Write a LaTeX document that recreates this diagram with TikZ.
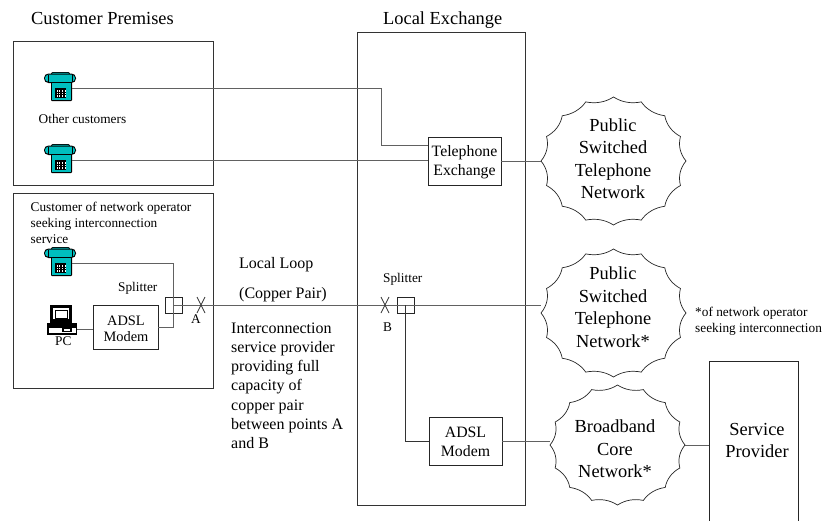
\documentclass[tikz,border=0pt]{standalone}
\usepackage{fontspec}
\setmainfont{Liberation Serif}
\usetikzlibrary{shapes.geometric,calc}
\definecolor{teal1}{RGB}{0,190,190}
\colorlet{wirec}{black!62}
\tikzset{
  x=1pt,y=-1pt,
  frame/.style={draw=black!80,line width=0.9pt,fill=none},
  wire/.style={draw=wirec,line width=0.9pt},
  darkwire/.style={draw=black!80,line width=0.8pt},
  boxn/.style={draw=black!85,line width=0.8pt,inner sep=0pt},
  boxt/.style={inner sep=0pt,align=center},
  lab/.style={inner sep=0pt,anchor=base west},
  small/.style={font=\fontsize{13.3}{16}\selectfont},
  mid/.style={font=\fontsize{15.8}{19}\selectfont},
  big/.style={font=\fontsize{18.4}{22.5}\selectfont},
  loopt/.style={font=\fontsize{16}{19.2}\selectfont},
  cloudtxt/.style={inner sep=0pt,align=center,big},
  hole/.style={ellipse,inner sep=0pt,draw=none},
}
% name, x of centre, y of top: draws a telephone; name is the point where its wire starts
\newcommand{\telephone}[3]{%
 \begin{scope}[shift={(#2,#3)}]
  \fill[black,rounded corners=2pt] (-9,0) rectangle (10,4);
  \fill[teal1,rounded corners=1pt] (-8,0.8) rectangle (9,3.5);
  \fill[black,rounded corners=4.5pt] (-16,1.5) rectangle (16,11);
  \fill[teal1,rounded corners=3.5pt] (-15,2.7) rectangle (15,9.8);
  \draw[black,line width=0.5pt] (-12,3) -- (-12,9.5) (12,3) -- (12,9.5);
  \fill[black,rounded corners=1pt] (-9,10) rectangle (12,29);
  \fill[teal1] (-8,11) rectangle (11,28);
  \fill[black] (-5,15.5) rectangle (6,26);
  \foreach \kx in {-3.5,-0.7,2.1,4.6}{\fill[white] (\kx,17.5) rectangle ++(1.1,7.5);}
  \foreach \ky in {19.8,22.3}{\fill[black] (-5,\ky) rectangle (6,\ky+0.6);}
  \coordinate (#1) at (12,16);
 \end{scope}}
% name, centre x, centre y, half width, half height
\newcommand{\burst}[5]{%
 \node[hole,minimum width=2*#4 pt,minimum height=2*#5 pt] (#1) at (#2,#3) {};
 \draw[black!85,line width=0.7pt]
  ({#2-#4},#3)
  \foreach \k in {0,...,15}{
   .. controls ({#2-#4*0.925*cos(\k*22.5+7)},{#3+#5*0.925*sin(\k*22.5+7)})
           and ({#2-#4*0.925*cos(\k*22.5+15.5)},{#3+#5*0.925*sin(\k*22.5+15.5)})
   .. ({#2-#4*cos(\k*22.5+22.5)},{#3+#5*sin(\k*22.5+22.5)})
  } -- cycle;}
\begin{document}
\begin{tikzpicture}
\useasboundingbox[fill=white] (0,0) rectangle (822,520);
% titles
\node[lab,big] (t1) at (31,24) {Customer Premises};
\node[lab,big] (t2) at (383,24) {Local Exchange};
% frames
\draw[frame] (13,41) rectangle (213,185);
\draw[frame] (13,193) rectangle (213,388);
\draw[frame] (357,32) rectangle (525,505);
% phones
\telephone{ph1}{60}{72}
\telephone{ph2}{60}{144}
\telephone{ph3}{60}{247}
\node[lab,small] (oc) at (38.5,123) {Other customers};
\node[lab,small,align=left,anchor=north west] (cust) at (30.5,202) {Customer of network operator\\seeking interconnection\\service};
% PC
\fill[black] (50,305) rectangle (72,324);
\fill[white] (53,308) rectangle (69,319);
\draw[black,line width=0.6pt] (55,310) rectangle (67,318);
\fill[black] (47,323) rectangle (77,334.5);
\fill[white] (48.5,328) rectangle (75.5,333.2);
\fill[black] (62,326) rectangle (72,332);
\fill[white] (64,328.5) rectangle (70,331);
\coordinate (pc) at (77,329);
\node[lab,small] (pclab) at (55,345) {PC};
% boxes
\node[boxn,minimum width=65pt,minimum height=44pt] (m1) at (125.5,327) {};
\node[boxt,font=\fontsize{14.4}{16}\selectfont] (m1t) at (126,328.5) {ADSL\\Modem};
\node[boxn,minimum width=73pt,minimum height=48pt] (te) at (464.5,161) {};
\node[boxt,mid] (tet) at (464.5,162) {Telephone\\Exchange};
\node[boxn,minimum width=73pt,minimum height=48pt] (m2) at (465.5,441) {};
\node[boxt,mid] (m2t) at (465.5,442) {ADSL\\Modem};
\node[boxn,minimum width=89pt,minimum height=164pt] (sp) at (753.5,443) {};
\node[boxt,big] (sptxt) at (757,440.5) {Service\\Provider};
\node[boxn,minimum width=17pt,minimum height=16pt] (s1) at (173.5,305) {};
\node[boxn,minimum width=17pt,minimum height=16pt] (s2) at (405.5,305) {};
\coordinate (xa) at (201,305);
\coordinate (xb) at (385,305);
\coordinate (t1c) at (381,145);
% clouds
\burst{c1}{613.5}{161}{72.5}{64}
\burst{c2}{613.5}{313}{72.5}{64}
\burst{c3}{617.5}{445}{67.5}{60}
\node[cloudtxt] (c1t) at (613,158.5) {Public\\Switched\\Telephone\\Network};
\node[cloudtxt] (c2t) at (613,307) {Public\\Switched\\Telephone\\Network*};
\node[cloudtxt] (c3t) at (615,449) {Broadband\\Core\\Network*};
% wires
\draw[wire] (ph1) -| (t1c) -- (t1c -| te.west);
\draw[wire] (ph2) -- (ph2 -| te.west);
\draw[wire] (te.east) -- (c1.west);
\draw[wire] (ph3) -| (s1.center) -- (s1.center |- m1.east) -- (m1.east);
\draw[wire] (pc) -- (pc -| m1.west);
\draw[wire] (s1.center) -- (c2.west |- s1.center);
\draw[darkwire] (s2.center) |- (m2.west);
\draw[wire] (m2.east) -- (m2.east -| c3.west);
\draw[wire] (sp.west |- c3.east) -- (c3.east);
% crosses
\draw[darkwire] ($(xa)+(-4,-8)$) -- ($(xa)+(4,8)$) ($(xa)+(4,-8)$) -- ($(xa)+(-4,8)$);
\draw[darkwire] ($(xb)+(-4,-8)$) -- ($(xb)+(4,8)$) ($(xb)+(4,-8)$) -- ($(xb)+(-4,8)$);
% labels
\node[lab,small] (spl1) at (118,291) {Splitter};
\node[lab,small] (spl2) at (383,282) {Splitter};
\node[lab,small] (la) at (191,323) {A};
\node[lab,small] (lb) at (383,331) {B};
\node[lab,loopt] (ll) at (239,268.5) {Local Loop};
\node[lab,loopt] (cp) at (239,298) {(Copper Pair)};
\node[lab,loopt,align=left,anchor=north west] (ic) at (231,322.5) {Interconnection\\service provider\\providing full\\capacity of\\copper pair\\between points A\\and B};
\node[lab,small,align=left,anchor=north west] (note) at (695,306.5) {*of network operator\\seeking interconnection};
\end{tikzpicture}
\end{document}
